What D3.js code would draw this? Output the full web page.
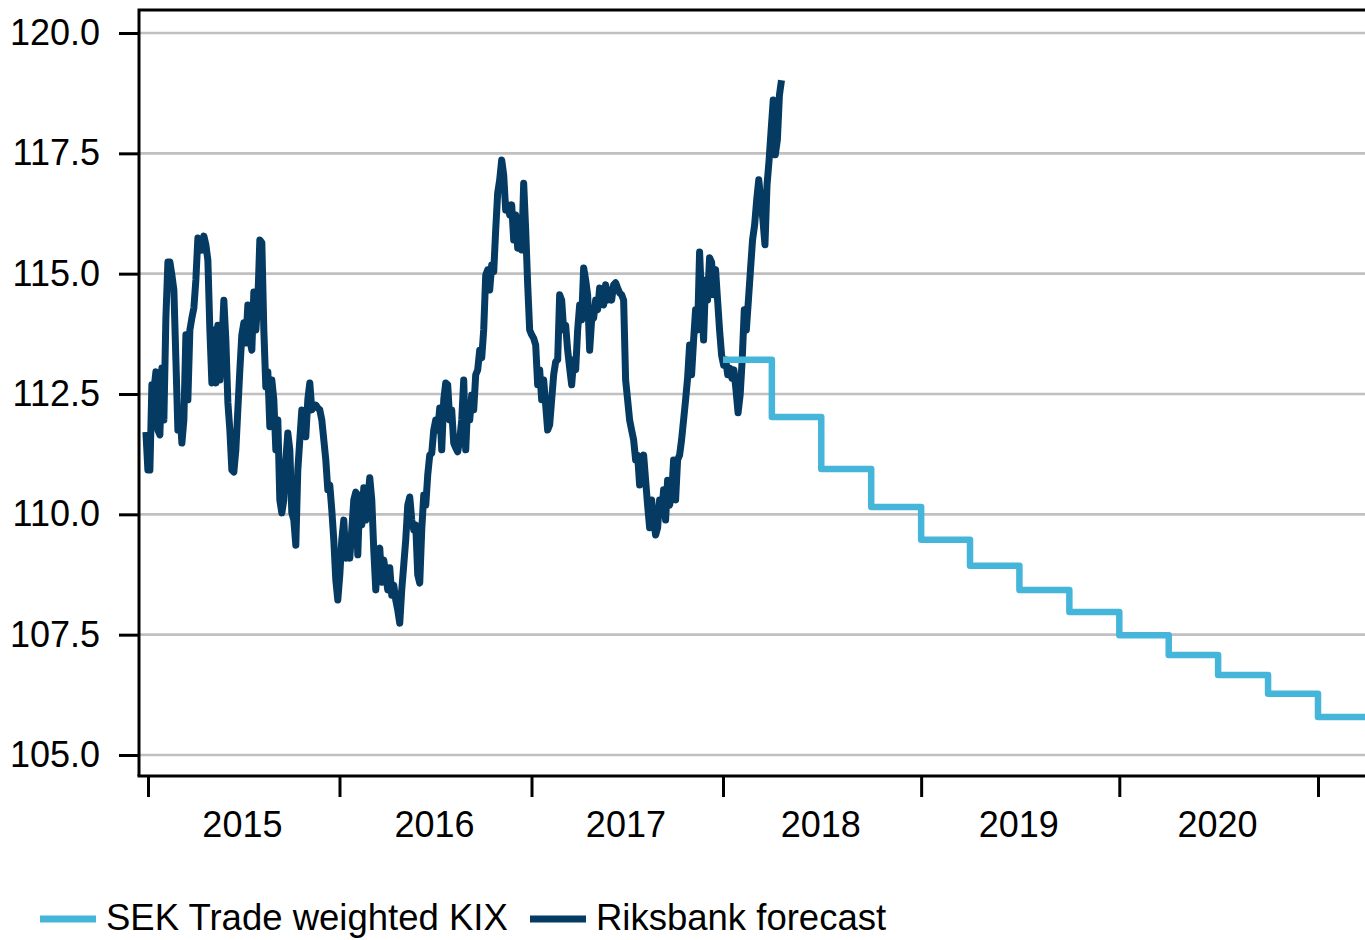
<!DOCTYPE html>
<html>
<head>
<meta charset="utf-8">
<script src="https://cdn.jsdelivr.net/npm/d3@7"></script>
<style>
  body { margin: 0; background: #fff; }
  text { font-family: "Liberation Sans", Arial, sans-serif; }
</style>
</head>
<body>
<script>
// KIX index, one reading roughly every 3.8 days from end of Dec 2014 to mid April 2018
const kixStart = new Date(2014, 11, 28);
const kixStepDays = 3.81;
const kixValues = [
  111.71, 110.92, 110.92, 112.69, 112.58, 112.96, 111.75, 111.65, 113.04, 111.96,
  114.08, 115.24, 115.24, 114.97, 114.66, 113.21, 111.75, 112.17, 111.48, 111.96,
  113.73, 112.38, 113.83, 114.08, 114.29, 114.87, 115.74, 115.70, 115.49, 115.78,
  115.60, 115.28, 113.83, 112.73, 113.83, 112.73, 113.93, 112.79, 113.52, 114.45,
  113.62, 112.33, 111.75, 110.92, 110.88, 111.34, 112.17, 113.00, 113.73, 113.98,
  113.56, 114.35, 113.62, 113.41, 114.62, 113.83, 114.45, 115.70, 115.64, 113.83,
  112.65, 112.96, 111.82, 112.79, 112.38, 111.34, 111.96, 110.30, 110.03, 110.30,
  111.13, 111.69, 111.34, 110.03, 109.88, 109.36, 110.92, 111.55, 112.17, 111.96,
  111.61, 112.38, 112.73, 112.17, 112.27, 112.27, 112.21, 112.17, 111.96, 111.55,
  111.13, 110.51, 110.61, 110.09, 109.47, 108.64, 108.22, 108.74, 109.47, 109.88,
  109.09, 109.36, 109.09, 109.68, 110.30, 110.46, 109.16, 110.40, 109.78, 110.55,
  109.88, 110.30, 110.76, 110.30, 109.26, 108.43, 109.16, 109.30, 108.59, 109.05,
  108.74, 108.43, 108.89, 108.32, 108.53, 108.22, 108.01, 107.74, 108.43, 108.95,
  109.47, 110.19, 110.36, 109.88, 109.68, 109.78, 108.74, 108.57, 109.68, 110.40,
  110.19, 110.82, 111.23, 111.27, 111.75, 111.96, 111.75, 112.21, 111.34, 112.38,
  112.73, 112.69, 111.96, 112.17, 111.48, 111.38, 111.30, 111.55, 111.96, 112.79,
  111.34, 112.27, 111.96, 112.48, 112.17, 112.90, 113.00, 113.41, 113.25, 113.83,
  114.97, 115.08, 114.66, 115.18, 115.04, 115.91, 116.68, 116.95, 117.36, 117.05,
  116.32, 116.43, 116.22, 116.43, 115.70, 116.22, 115.53, 116.01, 115.49, 116.88,
  115.91, 114.77, 113.83, 113.73, 113.66, 113.52, 112.69, 113.00, 112.38, 112.79,
  112.27, 111.75, 111.86, 112.38, 112.90, 113.17, 113.21, 114.56, 114.45, 113.83,
  113.93, 113.41, 113.04, 112.69, 113.21, 113.00, 113.83, 114.35, 114.04, 115.12,
  114.87, 114.56, 113.41, 114.04, 114.08, 114.45, 114.25, 114.70, 114.45, 114.35,
  114.77, 114.45, 114.66, 114.45, 114.77, 114.81, 114.70, 114.60, 114.56, 114.45,
  112.79, 112.38, 111.96, 111.75, 111.55, 111.13, 111.23, 110.61, 110.92, 111.23,
  110.71, 110.19, 109.72, 110.30, 109.88, 109.57, 109.72, 110.30, 109.99, 110.51,
  109.88, 110.71, 110.19, 110.40, 111.13, 110.30, 111.13, 111.23, 111.55, 111.96,
  112.38, 112.83, 113.52, 112.90, 113.62, 114.25, 113.83, 115.45, 114.45, 113.62,
  114.87, 114.45, 115.33, 115.24, 114.56, 115.08, 114.45, 113.83, 113.31, 113.10,
  113.21, 112.90, 113.04, 112.83, 113.00, 112.58, 112.11, 112.48, 113.21, 114.25,
  113.83, 114.45, 115.08, 115.70, 116.01, 116.53, 116.95, 116.53, 116.12, 115.60,
  116.84, 117.36, 117.99, 118.61, 117.47, 117.78, 118.71, 119.02
];

// Quarterly forecast path
const forecastQuarters = [
  "2018-01-01", "2018-04-01", "2018-07-01", "2018-10-01",
  "2019-01-01", "2019-04-01", "2019-07-01", "2019-10-01",
  "2020-01-01", "2020-04-01", "2020-07-01", "2020-10-01",
  "2021-01-01", "2021-04-01"
];
const forecastValues = [
  113.21, 112.02, 110.94, 110.15,
  109.47, 108.93, 108.43, 107.97,
  107.49, 107.08, 106.66, 106.27,
  105.79, 105.79
];

const yTicks = [105, 107.5, 110, 112.5, 115, 117.5, 120];
const yearTicks = [2015, 2016, 2017, 2018, 2019, 2020, 2021];
const yearLabels = ["2015", "2016", "2017", "2018", "2019", "2020"];

const legendLabels = ["SEK Trade weighted KIX", "Riksbank forecast"];
const colLight = "#45b6d9";
const colDark = "#053a62";

const W = 1365, H = 940;
const plot = { left: 139, top: 10, right: 1368, bottom: 776 };
const fontSize = 36;

const parse = d3.timeParse("%Y-%m-%d");

const svg = d3.select("body").append("svg")
    .attr("width", W)
    .attr("height", H);

// x: history years are a bit narrower than forecast years in the original
const x = d3.scaleTime()
    .domain([new Date(2015, 0, 1), new Date(2018, 0, 1), new Date(2021, 0, 1)])
    .range([148, 723, 1318]);

const y = d3.scaleLinear()
    .domain([105, 120])
    .range([755, 33]);

// gridlines
svg.append("g")
    .selectAll("line")
    .data(yTicks)
    .enter().append("line")
    .attr("x1", plot.left)
    .attr("x2", plot.right)
    .attr("y1", d => y(d))
    .attr("y2", d => y(d))
    .attr("stroke", "#c0c0c0")
    .attr("stroke-width", 2.6);

// y axis
const yAxis = svg.append("g")
    .attr("transform", `translate(${plot.left},0)`)
    .call(d3.axisLeft(y).tickValues(yTicks).tickSize(20).tickPadding(19).tickFormat(d3.format(".1f")));
yAxis.select(".domain").remove();
yAxis.selectAll("line").attr("stroke", "#000").attr("stroke-width", 3);
yAxis.selectAll("text")
    .attr("font-size", fontSize)
    .attr("font-family", "Liberation Sans, Arial, sans-serif")
    .attr("fill", "#000");

// x axis ticks
const xAxis = svg.append("g")
    .attr("transform", `translate(0,${plot.bottom})`)
    .call(d3.axisBottom(x)
        .tickValues(yearTicks.map(yr => new Date(yr, 0, 1)))
        .tickSize(21)
        .tickFormat(""));
xAxis.select(".domain").remove();
xAxis.selectAll("line").attr("stroke", "#000").attr("stroke-width", 3);

// year labels centred in each year
const xLabels = svg.append("g")
    .attr("transform", `translate(0,${plot.bottom})`)
    .call(d3.axisBottom(x)
        .tickValues(yearLabels.map(s => new Date(+s, 5, 29)))
        .tickSize(0)
        .tickPadding(35)
        .tickFormat(d3.timeFormat("%Y")));
xLabels.select(".domain").remove();
xLabels.selectAll("text")
    .attr("font-size", fontSize)
    .attr("font-family", "Liberation Sans, Arial, sans-serif")
    .attr("fill", "#000");

// frame
svg.append("path")
    .attr("d", `M${plot.left},${plot.bottom}V${plot.top}H${plot.right}`)
    .attr("fill", "none")
    .attr("stroke", "#000")
    .attr("stroke-width", 3);
svg.append("line")
    .attr("x1", plot.left - 1.5)
    .attr("x2", plot.right)
    .attr("y1", plot.bottom)
    .attr("y2", plot.bottom)
    .attr("stroke", "#000")
    .attr("stroke-width", 3);

svg.append("clipPath")
    .attr("id", "clip")
    .append("rect")
    .attr("x", plot.left + 1.5)
    .attr("y", plot.top + 1.5)
    .attr("width", plot.right - plot.left)
    .attr("height", plot.bottom - plot.top - 3);

const kix = kixValues.map((v, i) => ({
    date: d3.timeHour.offset(kixStart, Math.round(i * kixStepDays * 24)),
    value: v
}));
const forecast = forecastQuarters.map((d, i) => ({ date: parse(d), value: forecastValues[i] }));

const lineKix = d3.line()
    .x(d => x(d.date))
    .y(d => y(d.value));

const lineForecast = d3.line()
    .curve(d3.curveStepAfter)
    .x(d => x(d.date))
    .y(d => y(d.value));

const lines = svg.append("g").attr("clip-path", "url(#clip)");

lines.append("path")
    .datum(kix)
    .attr("d", lineKix)
    .attr("fill", "none")
    .attr("stroke", colDark)
    .attr("stroke-width", 7)
    .attr("stroke-linejoin", "round");

lines.append("path")
    .datum(forecast)
    .attr("d", lineForecast)
    .attr("fill", "none")
    .attr("stroke", colLight)
    .attr("stroke-width", 6.5)
    .attr("stroke-linejoin", "round");

// legend (kept just inside the bottom edge so descenders are not cut)
const legend = svg.append("g");
const legendItems = [
    { label: legendLabels[0], color: colLight, x0: 40 },
    { label: legendLabels[1], color: colDark, x0: 530 }
];
legend.selectAll("line")
    .data(legendItems)
    .enter().append("line")
    .attr("x1", d => d.x0)
    .attr("x2", d => d.x0 + 56)
    .attr("y1", 919)
    .attr("y2", 919)
    .attr("stroke", d => d.color)
    .attr("stroke-width", 7);
legend.selectAll("text")
    .data(legendItems)
    .enter().append("text")
    .attr("x", d => d.x0 + 66)
    .attr("y", 930)
    .attr("font-size", 36.5)
    .attr("fill", "#000")
    .text(d => d.label);
</script>
</body>
</html>
